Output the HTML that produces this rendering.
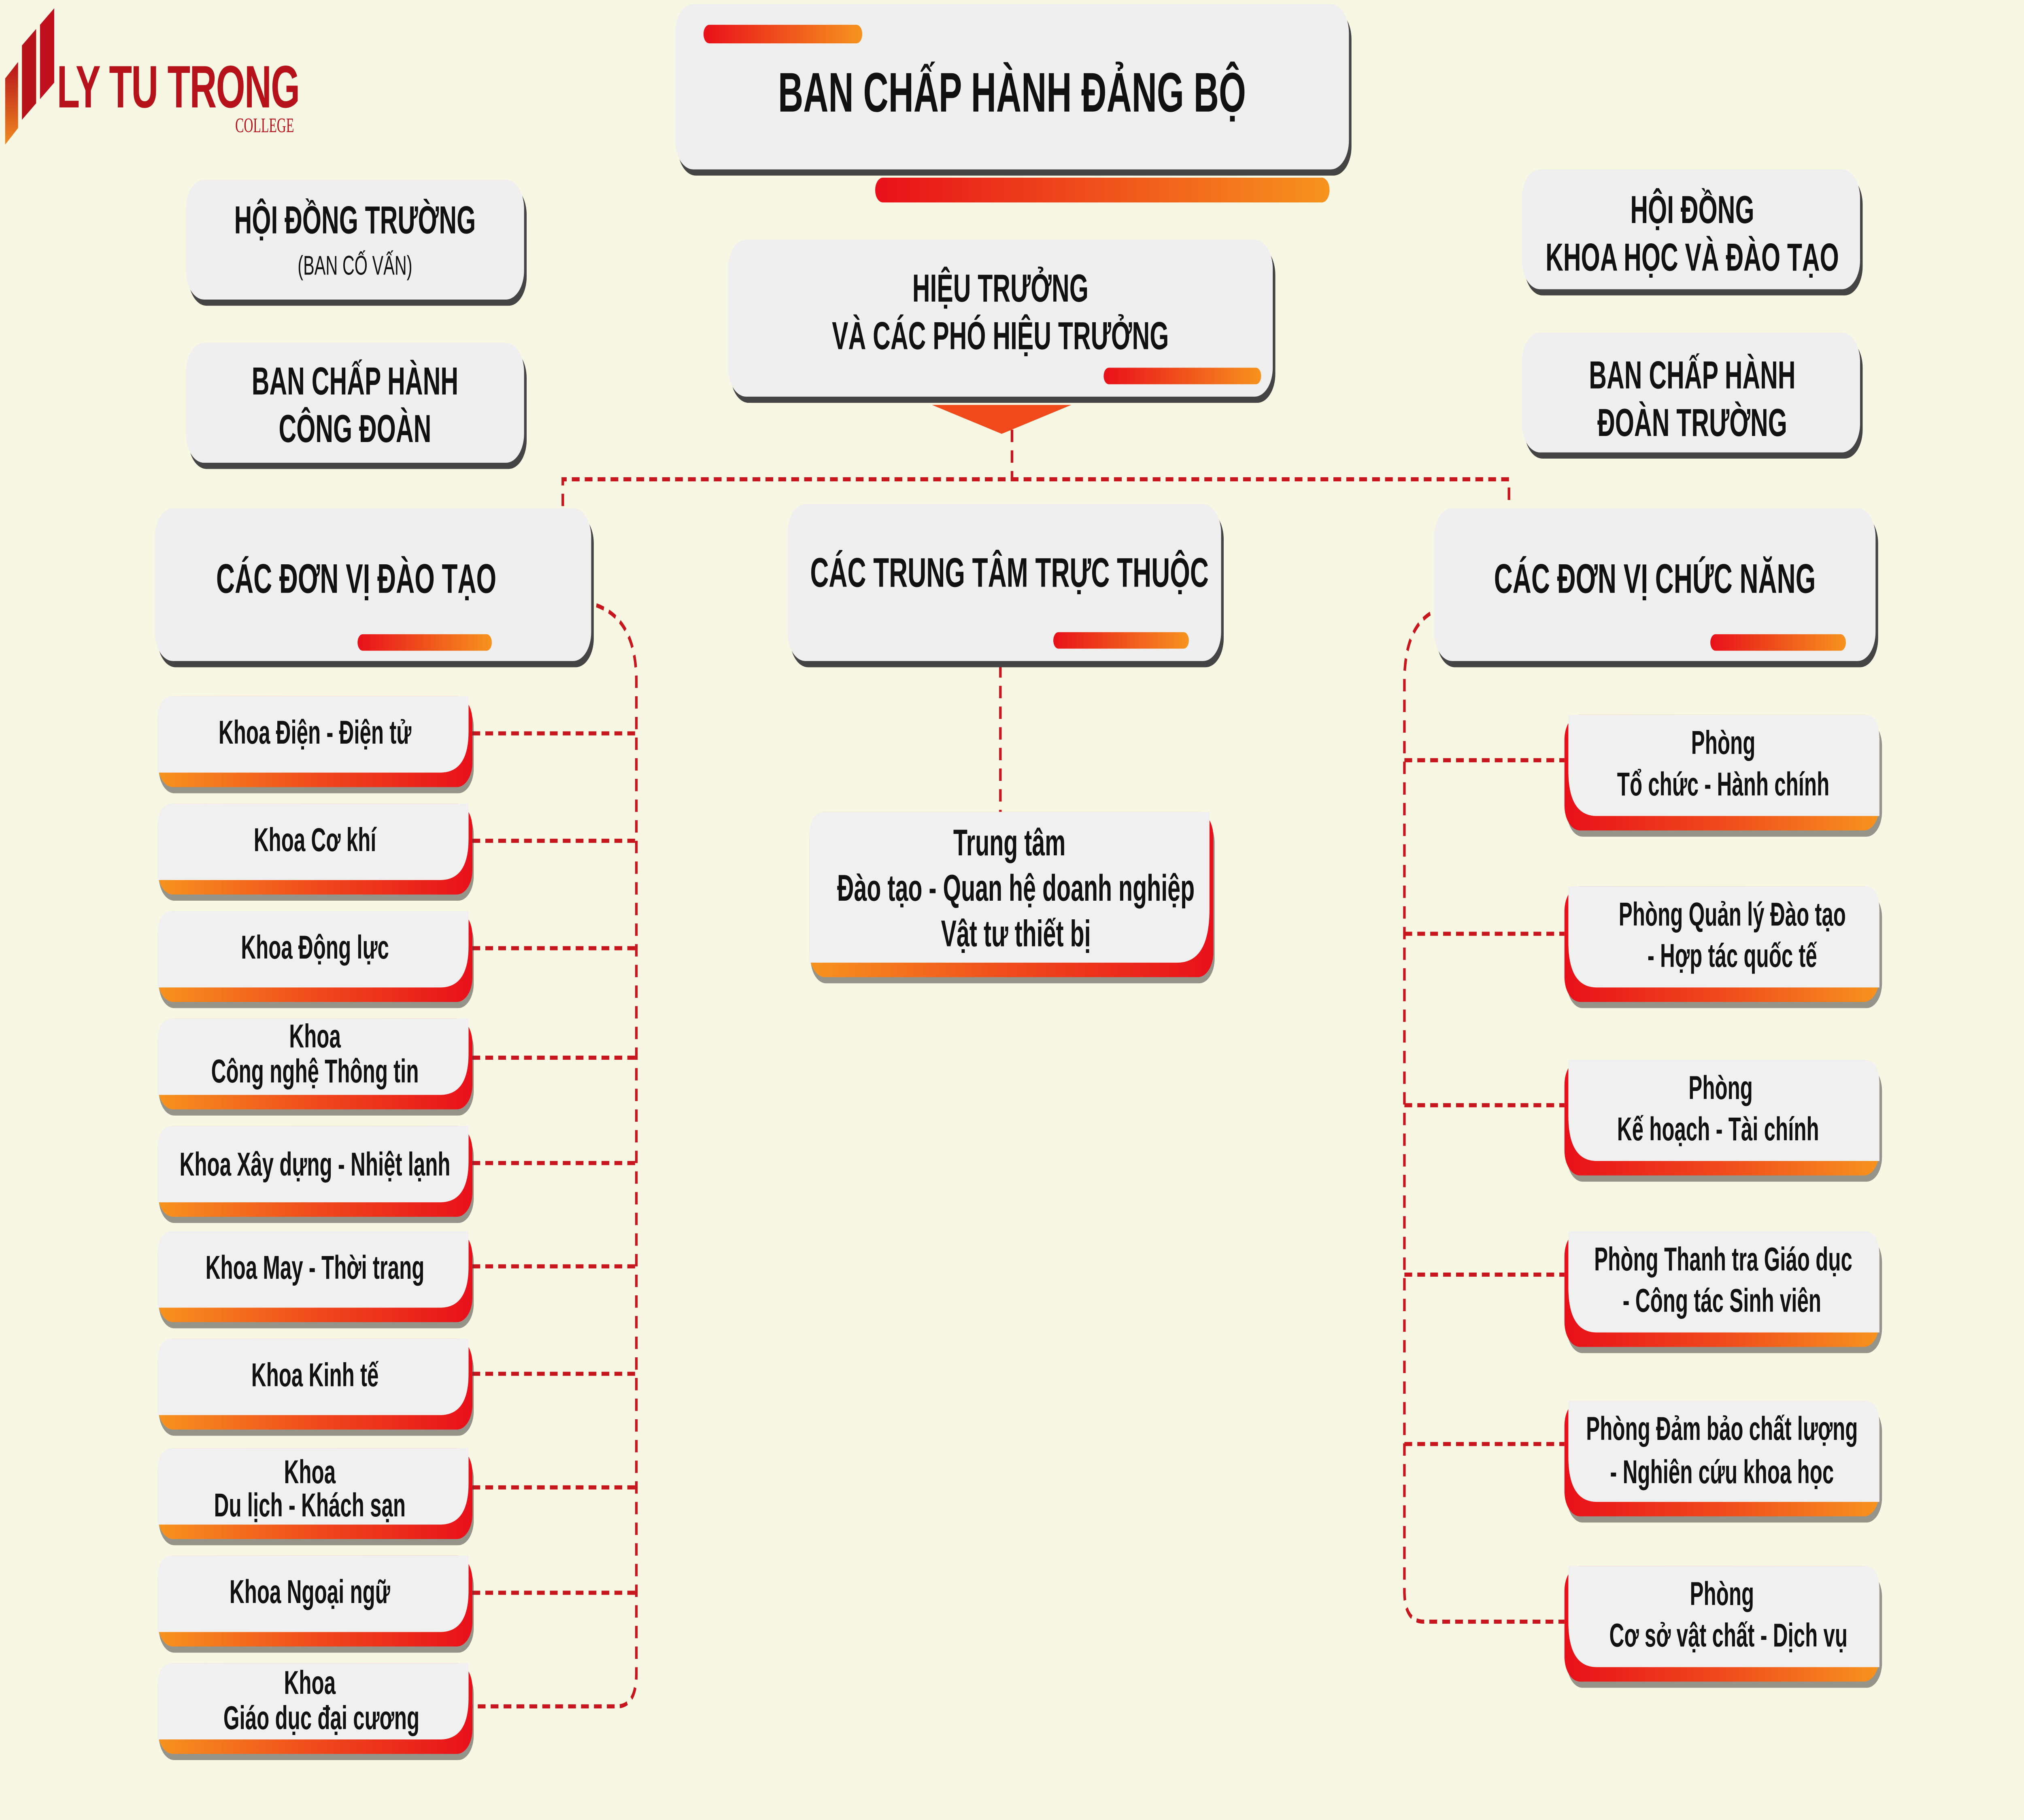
<!DOCTYPE html>
<html><head><meta charset="utf-8">
<style>
html,body{margin:0;padding:0;width:100%;height:100%;overflow:hidden;background:#f7f7e3;}
svg{display:block;position:fixed;left:0;top:0;width:100vw;height:100vh;}
text{font-family:"Liberation Sans","DejaVu Sans",sans-serif;font-weight:bold;fill:#111;text-anchor:middle;}
</style></head><body>
<svg viewBox="0 0 1568 881" preserveAspectRatio="none" xmlns="http://www.w3.org/2000/svg">
<defs>
<linearGradient id="gl" x1="0" x2="1" y1="0" y2="0"><stop offset="0" stop-color="#f7931e"/><stop offset="0.5" stop-color="#f04a1c"/><stop offset="1" stop-color="#e8101a"/></linearGradient>
<linearGradient id="gr" x1="0" x2="1" y1="0" y2="0"><stop offset="0" stop-color="#e8101a"/><stop offset="0.5" stop-color="#f04a1c"/><stop offset="1" stop-color="#f7931e"/></linearGradient>
<linearGradient id="gb" x1="0" x2="1" y1="0" y2="0"><stop offset="0" stop-color="#e8101a"/><stop offset="1" stop-color="#f7931e"/></linearGradient>
<linearGradient id="gv" x1="0" x2="0" y1="0" y2="1"><stop offset="0" stop-color="#b5121b"/><stop offset="1" stop-color="#f08a20"/></linearGradient>
<g id="kl">
<rect x="1" y="3" width="244" height="44" rx="12" fill="#444" opacity="0.55"/>
<rect x="0" y="0" width="244" height="44" rx="12" fill="url(#gl)"/>
<path d="M12,0 H241 V17 Q241,37 219,37 H0 V12 Q0,0 12,0 Z" fill="#f0f0f0"/>
</g>
<g id="kr">
<rect x="2" y="3" width="244" height="56" rx="12" fill="#444" opacity="0.55"/>
<rect x="0" y="0" width="244" height="56" rx="12" fill="url(#gr)"/>
<path d="M3,0 H232 Q244,0 244,12 V49 H25 Q3,49 3,27 Z" fill="#f0f0f0"/>
</g>
</defs>

<rect x="0" y="0" width="1568" height="881" fill="#f7f7e3"/>

<!-- logo -->
<polygon points="4,38 14,30 14,62 4,70" fill="url(#gv)"/>
<polygon points="17,22 28,14 28,50 17,58" fill="#b5121b"/>
<polygon points="31,12 42,4 42,40 31,48" fill="#c0101e"/>
<text x="138" y="52" style="font-size:29px;fill:#b5121b;letter-spacing:-0.5px">LY TU TRONG</text>
<text x="205" y="64" style="font-size:10px;fill:#b5121b;font-family:'Liberation Serif',serif;font-weight:normal">COLLEGE</text>

<!-- connectors -->
<g fill="none" stroke="#c8161e" stroke-width="2" stroke-dasharray="6 4">
<path d="M436 245 V232 H1169 V245"/>
<path d="M784 208 V232"/>
<path d="M775 322 V393"/>
<path d="M462 293 Q493 300 493 330 V810 Q493 826 478 826 H366"/>
<path d="M366 355 H493 M366 407 H493 M366 459 H493 M366 512 H493 M366 563 H493 M366 613 H493 M366 665 H493 M366 720 H493 M366 771 H493"/>
<path d="M1108 297 Q1088 305 1088 330 V770 Q1088 785 1103 785 H1212"/>
<path d="M1088 368 H1212 M1088 452 H1212 M1088 535 H1212 M1088 617 H1212 M1088 699 H1212"/>
</g>
<polygon points="722,196 830,196 776,210" fill="#f04a1c"/>

<!-- top box -->
<rect x="678" y="86" width="352" height="12" rx="6" fill="url(#gb)"/>
<rect x="525" y="5" width="522" height="80" rx="14" fill="#444"/>
<rect x="523" y="2" width="522" height="80" rx="14" fill="#efefef"/>
<rect x="545" y="12" width="123" height="9" rx="4.5" fill="url(#gb)"/>
<text x="784" y="54" style="font-size:27px">BAN CHẤP HÀNH ĐẢNG BỘ</text>

<!-- left small header boxes -->
<rect x="146" y="90" width="262" height="58" rx="14" fill="#444"/>
<rect x="144" y="87" width="262" height="58" rx="14" fill="#efefef"/>
<text x="275" y="113" style="font-size:19px">HỘI ĐỒNG TRƯỜNG</text>
<text x="275" y="133" style="font-size:13px;font-weight:normal">(BAN CỐ VẤN)</text>

<rect x="146" y="169" width="262" height="58" rx="14" fill="#444"/>
<rect x="144" y="166" width="262" height="58" rx="14" fill="#efefef"/>
<text x="275" y="191" style="font-size:19px">BAN CHẤP HÀNH</text>
<text x="275" y="214" style="font-size:19px">CÔNG ĐOÀN</text>

<!-- principal -->
<rect x="566" y="119" width="422" height="76" rx="14" fill="#444"/>
<rect x="564" y="116" width="422" height="76" rx="14" fill="#efefef"/>
<text x="775" y="146" style="font-size:19px">HIỆU TRƯỞNG</text>
<text x="775" y="169" style="font-size:19px">VÀ CÁC PHÓ HIỆU TRƯỞNG</text>
<rect x="855" y="178" width="122" height="8" rx="4" fill="url(#gb)"/>

<!-- right header boxes -->
<rect x="1181" y="85" width="262" height="58" rx="14" fill="#444"/>
<rect x="1179" y="82" width="262" height="58" rx="14" fill="#efefef"/>
<text x="1311" y="108" style="font-size:19px">HỘI ĐỒNG</text>
<text x="1311" y="131" style="font-size:19px">KHOA HỌC VÀ ĐÀO TẠO</text>
<rect x="1181" y="164" width="262" height="58" rx="14" fill="#444"/>
<rect x="1179" y="161" width="262" height="58" rx="14" fill="#efefef"/>
<text x="1311" y="188" style="font-size:19px">BAN CHẤP HÀNH</text>
<text x="1311" y="211" style="font-size:19px">ĐOÀN TRƯỜNG</text>

<!-- group headers -->
<rect x="122" y="249" width="338" height="74" rx="14" fill="#444"/>
<rect x="120" y="246" width="338" height="74" rx="14" fill="#efefef"/>
<text x="276" y="287" style="font-size:20px">CÁC ĐƠN VỊ ĐÀO TẠO</text>
<rect x="277" y="307" width="104" height="8" rx="4" fill="url(#gb)"/>

<rect x="612" y="247" width="336" height="76" rx="14" fill="#444"/>
<rect x="610" y="244" width="336" height="76" rx="14" fill="#efefef"/>
<text x="782" y="284" style="font-size:20px">CÁC TRUNG TÂM TRỰC THUỘC</text>
<rect x="816" y="306" width="105" height="8" rx="4" fill="url(#gb)"/>

<rect x="1113" y="249" width="342" height="74" rx="14" fill="#444"/>
<rect x="1111" y="246" width="342" height="74" rx="14" fill="#efefef"/>
<text x="1282" y="287" style="font-size:20px">CÁC ĐƠN VỊ CHỨC NĂNG</text>
<rect x="1325" y="307" width="105" height="8" rx="4" fill="url(#gb)"/>

<!-- left list -->
<use href="#kl" x="122" y="337"/><text x="244" y="360" style="font-size:16px">Khoa Điện - Điện tử</text>
<use href="#kl" x="122" y="389"/><text x="244" y="412" style="font-size:16px">Khoa Cơ khí</text>
<use href="#kl" x="122" y="441"/><text x="244" y="464" style="font-size:16px">Khoa Động lực</text>
<use href="#kl" x="122" y="493"/><text x="244" y="507" style="font-size:16px">Khoa</text><text x="244" y="524" style="font-size:16px">Công nghệ Thông tin</text>
<use href="#kl" x="122" y="545"/><text x="244" y="569" style="font-size:16px">Khoa Xây dựng - Nhiệt lạnh</text>
<use href="#kl" x="122" y="596"/><text x="244" y="619" style="font-size:16px">Khoa May - Thời trang</text>
<use href="#kl" x="122" y="648"/><text x="244" y="671" style="font-size:16px">Khoa Kinh tế</text>
<use href="#kl" x="122" y="701"/><text x="240" y="718" style="font-size:16px">Khoa</text><text x="240" y="734" style="font-size:16px">Du lịch - Khách sạn</text>
<use href="#kl" x="122" y="753"/><text x="240" y="776" style="font-size:16px">Khoa Ngoại ngữ</text>
<use href="#kl" x="122" y="805"/><text x="240" y="820" style="font-size:16px">Khoa</text><text x="249" y="837" style="font-size:16px">Giáo dục đại cương</text>

<!-- center -->
<rect x="628" y="396" width="313" height="80" rx="12" fill="#444" opacity="0.55"/>
<rect x="627" y="393" width="313" height="80" rx="12" fill="url(#gl)"/>
<path d="M639,393 H937 V440 Q937,466 912,466 H627 V405 Q627,393 639,393 Z" fill="#f0f0f0"/>
<text x="782" y="414" style="font-size:18px">Trung tâm</text>
<text x="787" y="436" style="font-size:18px">Đào tạo - Quan hệ doanh nghiệp</text>
<text x="787" y="458" style="font-size:18px">Vật tư thiết bị</text>

<!-- right list -->
<use href="#kr" x="1212" y="346"/><text x="1335" y="365" style="font-size:16px">Phòng</text><text x="1335" y="385" style="font-size:16px">Tổ chức - Hành chính</text>
<use href="#kr" x="1212" y="429"/><text x="1342" y="448" style="font-size:16px">Phòng Quản lý Đào tạo</text><text x="1342" y="468" style="font-size:16px">- Hợp tác quốc tế</text>
<use href="#kr" x="1212" y="513"/><text x="1333" y="532" style="font-size:16px">Phòng</text><text x="1331" y="552" style="font-size:16px">Kế hoạch - Tài chính</text>
<use href="#kr" x="1212" y="596"/><text x="1335" y="615" style="font-size:16px">Phòng Thanh tra Giáo dục</text><text x="1334" y="635" style="font-size:16px">- Công tác Sinh viên</text>
<use href="#kr" x="1212" y="678"/><text x="1334" y="697" style="font-size:16px">Phòng Đảm bảo chất lượng</text><text x="1334" y="718" style="font-size:16px">- Nghiên cứu khoa học</text>
<use href="#kr" x="1212" y="758"/><text x="1334" y="777" style="font-size:16px">Phòng</text><text x="1339" y="797" style="font-size:16px">Cơ sở vật chất - Dịch vụ</text>
</svg>
</body></html>
